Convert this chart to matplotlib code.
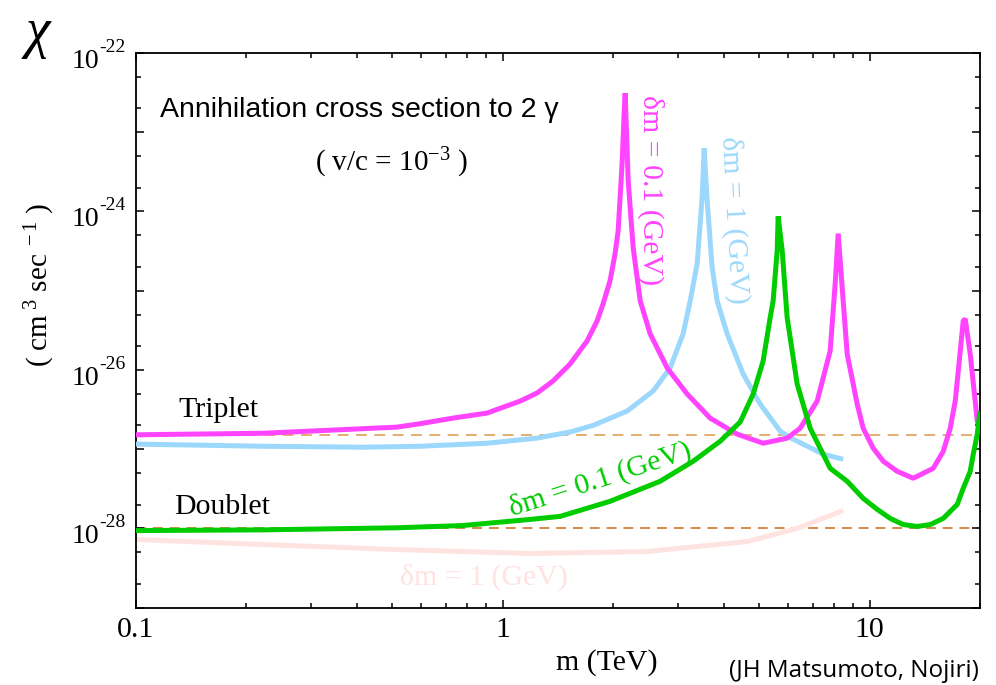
import matplotlib
matplotlib.use("Agg")
import matplotlib.pyplot as plt
from matplotlib.ticker import LogLocator, NullFormatter

plt.rcParams['mathtext.fontset'] = 'custom'
plt.rcParams['mathtext.rm'] = 'Liberation Serif'
plt.rcParams['mathtext.it'] = 'Liberation Serif:italic'

SERIF = 'Liberation Serif'
SANS = 'Liberation Sans'

# ---------------- data ----------------
# Triplet, dm = 0.1 GeV (magenta)
m_trip01 = [0.1, 0.222, 0.515, 0.595, 0.732, 0.906, 1.115, 1.24, 1.371, 1.526,
            1.698, 1.808, 1.877, 1.961, 2.024, 2.063, 2.115, 2.142, 2.156,
            2.197, 2.267, 2.369, 2.522, 2.807, 3.182, 3.675, 4.355, 5.126, 5.961,
            6.467, 7.196, 7.808, 8.058, 8.211, 8.42, 8.687, 9.252, 9.605, 10.23,
            10.9, 11.89, 13.15, 14.91, 15.88, 16.59, 17.12, 17.45, 18.0, 18.23,
            18.81, 19.66, 20.0]
s_trip01 = [1.52e-27, 1.59e-27, 1.9e-27, 2.1e-27, 2.47e-27, 2.86e-27, 4.05e-27, 5.12e-27, 7.26e-27, 1.19e-26,
            2.33e-26, 4.17e-26, 6.84e-26, 1.34e-25, 2.94e-25, 5.74e-25, 4.05e-24, 1.74e-23, 3.12e-23,
            2.47e-24, 3.5e-25, 7.47e-26, 2.86e-26, 1.06e-26, 4.97e-27, 2.47e-27, 1.55e-27, 1.19e-27, 1.38e-27,
            1.84e-27, 4.05e-27, 1.74e-26, 1.23e-25, 5.26e-25, 1.09e-25, 1.59e-26, 3.71e-27, 1.84e-27, 1.03e-27,
            7.05e-28, 5.26e-28, 4.30e-28, 5.74e-28, 9.4e-28, 1.84e-27, 4.05e-27, 9.7e-27, 4.17e-26, 4.42e-26,
            1.59e-26, 2.26e-27, 1.7e-27]

# Triplet, dm = 1 GeV (light blue)
m_trip1 = [0.1, 0.222, 0.416, 0.595, 0.906, 1.24, 1.526, 1.764, 2.183,
           2.57, 2.859, 3.102, 3.243, 3.388, 3.495, 3.54, 3.607, 3.722, 3.84,
           4.089, 4.522, 5.032, 5.705, 6.074, 7.473, 8.472]
s_trip1 = [1.16e-27, 1.09e-27, 1.06e-27, 1.09e-27, 1.19e-27, 1.38e-27, 1.65e-27, 2.0e-27, 3.03e-27,
           5.42e-27, 1.06e-26, 2.86e-26, 7.47e-26, 2.2e-25, 1.5e-24, 6.27e-24, 1.38e-24, 1.95e-25, 7.47e-26,
           2.86e-26, 8.9e-27, 3.71e-27, 1.69e-27, 1.4e-27, 8.65e-28, 7.47e-28]

# Doublet, dm = 0.1 GeV (green)
m_doub01 = [0.1, 0.222, 0.515, 0.78, 1.187, 1.433, 1.961, 2.685, 3.304, 3.913,
            4.437, 4.816, 5.126, 5.357, 5.459, 5.598, 5.633, 5.777, 5.961, 6.347,
            6.887, 7.808, 8.687, 9.605, 10.49, 11.38, 12.35, 13.48, 14.64, 15.88,
            17.34, 18.0, 18.81, 19.17, 19.66, 20.0]
s_doub01 = [9.4e-29, 9.6e-29, 1.02e-28, 1.09e-28, 1.3e-28, 1.42e-28, 2.2e-28, 3.94e-28, 7.05e-28, 1.26e-27,
            2.2e-27, 4.97e-27, 1.3e-26, 4.55e-26, 7.47e-26, 3.21e-25, 8.65e-25, 3.21e-25, 4.55e-26, 6.65e-27,
            1.84e-27, 5.74e-28, 3.94e-28, 2.4e-28, 1.74e-28, 1.34e-28, 1.12e-28, 1.06e-28, 1.12e-28, 1.34e-28,
            2.01e-28, 3.21e-28, 5.26e-28, 8.65e-28, 1.55e-27, 3.03e-27]

# Doublet, dm = 1 GeV (faint pink)
m_doub1 = [0.1, 0.222, 0.515, 1.187, 2.475, 4.637, 6.347, 8.472]
s_doub1 = [7.26e-29, 6.27e-29, 5.42e-29, 4.83e-29, 5.12e-29, 6.84e-29, 1.0e-28, 1.69e-28]

# reference levels
triplet_level = 1.5e-27
doublet_level = 1.0e-28

x_range = [0.1, 20]
y_range = [1e-29, 1e-22]
x_ticks = [0.1, 1, 10]
x_ticklabels = ['0.1', '1', '10']
y_label_exps = [-22, -24, -26, -28]

# ---------------- figure ----------------
W, H = 996, 685
fig = plt.figure(figsize=(W / 100, H / 100), dpi=100)
L, R, T, B = 136, 980, 53, 607.7
ax = fig.add_axes([L / W, 1 - B / H, (R - L) / W, (B - T) / H])
ax.set_xscale('log')
ax.set_yscale('log')
ax.set_xlim(*x_range)
ax.set_ylim(*y_range)

ax.plot(x_range, [triplet_level] * 2, color='#DFA055', lw=1.2, dashes=(6.5, 4.5), zorder=1)
ax.plot(x_range, [doublet_level] * 2, color='#C8691A', lw=1.1, dashes=(6.5, 4.5), zorder=1)

kw = dict(lw=3.6, solid_capstyle='butt', solid_joinstyle='bevel')
ax.plot(m_doub1, s_doub1, color='#FFE3E0', zorder=2, **kw)
ax.plot(m_trip1, s_trip1, color='#9CD8FB', zorder=3, **kw)
ax.plot(m_trip01, s_trip01, color='#FF44FF', zorder=4, **kw)
ax.plot(m_doub01, s_doub01, color='#00CC00', zorder=5, **kw)

# ticks
ax.set_xticks(x_ticks)
ax.set_xticklabels(x_ticklabels, fontfamily=SERIF, fontsize=21.5)
ax.xaxis.set_minor_locator(LogLocator(base=10, subs=range(2, 10)))
ax.xaxis.set_minor_formatter(NullFormatter())
ax.yaxis.set_major_locator(LogLocator(base=10, numticks=20))
ax.yaxis.set_minor_locator(LogLocator(base=10, subs=(2, 5), numticks=20))
ax.yaxis.set_major_formatter(NullFormatter())
ax.yaxis.set_minor_formatter(NullFormatter())
ax.tick_params(which='both', direction='in', top=True, right=True, width=1.1)
ax.tick_params(which='major', length=6)
ax.tick_params(which='minor', length=3.8)
ax.tick_params(axis='x', which='major', pad=7)
for sp in ax.spines.values():
    sp.set_linewidth(1.3)

# y tick labels: 10 with raised exponent
ytr = ax.get_yaxis_transform()
for e in y_label_exps:
    ax.annotate('10', xy=(0, 10.0 ** e), xycoords=ytr, xytext=(-26.5, -6),
                textcoords='offset points', ha='right', va='center',
                fontfamily=SERIF, fontsize=20, annotation_clip=False)
    ax.annotate('-%d' % (-e), xy=(0, 10.0 ** e), xycoords=ytr, xytext=(-26.5, 1),
                textcoords='offset points', ha='left', va='baseline',
                fontfamily=SERIF, fontsize=14, annotation_clip=False)

def ftext(px, py, s, **k):
    fig.text(px / W, 1 - py / H, s, **k)

# axis labels
ftext(607, 663, 'm (TeV)', ha='center', va='center', fontfamily=SERIF, fontsize=21.5)
ftext(40, 285, r'( cm$^{\ 3}$ sec$^{\ -1}$ )', ha='center', va='center', rotation=90,
      fontfamily=SERIF, fontsize=21)
ftext(38, 33, '\u03c7', ha='center', va='center', fontfamily=SERIF, style='italic', fontsize=40)
ftext(854, 671, '(JH Matsumoto, Nojiri)', ha='center', va='center', fontfamily='Open Sans', fontsize=17.5)

# annotations
ftext(160, 110, 'Annihilation cross section to 2 \u03b3', ha='left', va='center',
      fontfamily=SANS, fontsize=20.5)
ftext(392, 163, r'( v/c = 10$^{-3}$ )', ha='center', va='center', fontfamily=SERIF, fontsize=21)
ftext(218, 410, 'Triplet', ha='center', va='center', fontfamily=SERIF, fontsize=21.5)
ftext(222, 507, 'Doublet', ha='center', va='center', fontfamily=SERIF, fontsize=21.5)

ftext(651, 190, '\u03b4m = 0.1 (GeV)', ha='center', va='center', rotation=-90,
      color='#FF44FF', fontfamily=SERIF, fontsize=21.5)
ftext(734, 220, '\u03b4m = 1 (GeV)', ha='center', va='center', rotation=-87,
      color='#9CD8FB', fontfamily=SERIF, fontsize=21.5)
ftext(600, 480, '\u03b4m = 0.1 (GeV)', ha='center', va='center', rotation=18,
      color='#00CC00', fontfamily=SERIF, fontsize=21.5)
ftext(484, 577, '\u03b4m = 1 (GeV)', ha='center', va='center',
      color='#FFE3E0', fontfamily=SERIF, fontsize=21.5)

fig.savefig('out.png', dpi=100)
